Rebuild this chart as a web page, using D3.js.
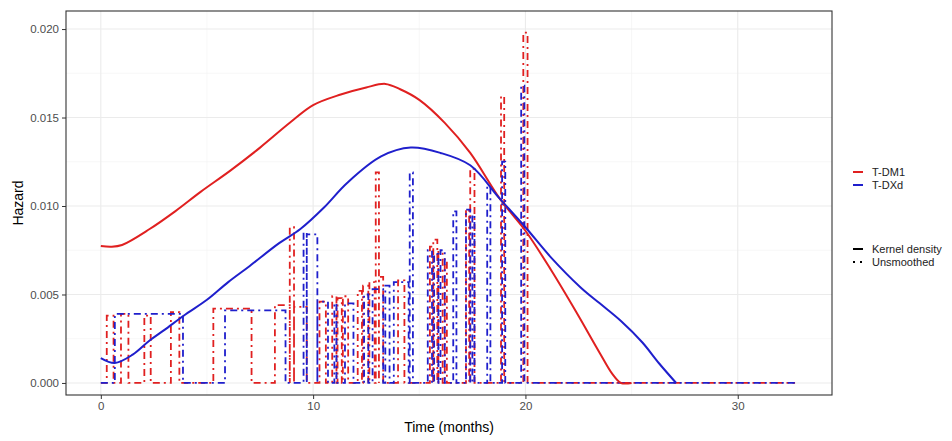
<!DOCTYPE html>
<html>
<head>
<meta charset="utf-8">
<script src="https://cdn.jsdelivr.net/npm/d3@7"></script>
<style>
  body { margin: 0; background: #fff; }
  svg text { font-family: "Liberation Sans", Arial, sans-serif; }
</style>
</head>
<body>
<div id="chart"></div>
<script>
// groups
const groups = ["T-DM1", "T-DXd"];
const groupColors = ["#E02020", "#1F1FCC"];

// kernel density hazard: [time, hazard]
const smoothTDM1 = [
  [0, 0.00774], [0.5, 0.00770], [1, 0.00780], [2.3, 0.0087], [3.5, 0.0097],
  [4.7, 0.0108], [6.1, 0.0120], [7.5, 0.0133], [8.9, 0.0147], [10, 0.0157],
  [11.3, 0.0163], [12.5, 0.0167], [13.4, 0.0169], [14.1, 0.0166], [15, 0.0160],
  [16.2, 0.0147], [17.4, 0.0130], [18.8, 0.0104], [20, 0.0086], [21.2, 0.0064],
  [22.4, 0.0040], [23.5, 0.0017], [24.1, 0.0005], [24.5, 0.0], [25.0, 0.0]
];
const smoothTDXd = [
  [0, 0.00141], [0.66, 0.00113], [1.5, 0.0016], [2.3, 0.0024], [3.0, 0.0030],
  [3.9, 0.0038], [5, 0.0047], [6, 0.0057], [7, 0.0066], [8.4, 0.0079],
  [9.4, 0.0087], [10.5, 0.0099], [11.6, 0.0113], [13.2, 0.0128], [14.6, 0.0133],
  [16, 0.0130], [17.4, 0.0123], [18.8, 0.0104], [20, 0.0088], [21.2, 0.0071],
  [22.6, 0.0054], [23.5, 0.0045], [24.5, 0.0035], [25.5, 0.0023], [26.3, 0.0011],
  [27.1, 0.0]
];

// unsmoothed hazard, blocks of [start, end, hazard]; zero elsewhere
const rawTDM1 = [
  [0.28, 0.6, 0.0038], [0.95, 1.3, 0.0039], [2.05, 2.35, 0.0038], [3.3, 3.7, 0.0040],
  [5.3, 7.1, 0.0042], [8.2, 8.9, 0.0044], [8.9, 9.1, 0.0088], [9.1, 9.7, 0.0043],
  [10.3, 10.6, 0.0046], [10.9, 11.1, 0.0049], [11.15, 11.35, 0.0048], [11.4, 11.65, 0.0049],
  [12.1, 12.3, 0.0052], [12.35, 12.6, 0.0055], [12.65, 12.9, 0.0057], [12.95, 13.1, 0.0119],
  [13.1, 13.3, 0.0060], [14.0, 14.3, 0.0058], [15.5, 15.65, 0.0077], [15.66, 15.85, 0.0081],
  [15.9, 16.1, 0.0074], [16.2, 16.3, 0.0070], [17.2, 17.35, 0.0098], [17.4, 17.6, 0.0121],
  [18.85, 19.0, 0.0162], [19.9, 20.1, 0.0198]
];
const rawTDXd = [
  [0.66, 3.87, 0.0039], [5.85, 8.7, 0.0041], [9.55, 9.7, 0.0085], [9.7, 10.2, 0.0084],
  [10.2, 10.7, 0.0046], [11.0, 11.1, 0.0045], [11.5, 11.9, 0.0045], [12.4, 12.6, 0.0050],
  [12.8, 13.3, 0.0053], [13.4, 13.6, 0.0055], [13.8, 14.5, 0.0057], [14.55, 14.7, 0.0119],
  [15.4, 15.6, 0.0075], [15.7, 15.9, 0.0073], [16.0, 16.2, 0.0075], [16.6, 16.75, 0.0097],
  [17.2, 17.4, 0.0098], [17.5, 17.6, 0.0095], [18.2, 18.35, 0.0111], [18.9, 19.05, 0.0125],
  [19.8, 19.95, 0.0168]
];
const rawEnd = 32.7;

// axis ticks
const xTicks = [0, 10, 20, 30];
const xMinor = [5, 15, 25];
const yTicks = [0, 0.005, 0.010, 0.015, 0.020];
const yMinor = [0.0025, 0.0075, 0.0125, 0.0175];

const legendTypes = ["Kernel density", "Unsmoothed"];

// canvas
const W = 952, H = 441;
const panel = { left: 66, right: 832, top: 11, bottom: 395 };

const svg = d3.select("#chart").append("svg")
  .attr("width", W).attr("height", H);

const x = d3.scaleLinear().domain([-1.64, 34.44]).range([panel.left, panel.right]);
const y = d3.scaleLinear().domain([-0.00068, 0.02102]).range([panel.bottom, panel.top]);

// panel background + grid
svg.append("rect")
  .attr("x", panel.left).attr("y", panel.top)
  .attr("width", panel.right - panel.left).attr("height", panel.bottom - panel.top)
  .attr("fill", "#fff");

const grid = svg.append("g");
grid.selectAll("line.xminor").data(xMinor).enter().append("line")
  .attr("x1", d => x(d)).attr("x2", d => x(d))
  .attr("y1", panel.top).attr("y2", panel.bottom)
  .attr("stroke", "#F2F2F2").attr("stroke-width", 0.6);
grid.selectAll("line.yminor").data(yMinor).enter().append("line")
  .attr("y1", d => y(d)).attr("y2", d => y(d))
  .attr("x1", panel.left).attr("x2", panel.right)
  .attr("stroke", "#F2F2F2").attr("stroke-width", 0.6);
grid.selectAll("line.xmajor").data(xTicks).enter().append("line")
  .attr("x1", d => x(d)).attr("x2", d => x(d))
  .attr("y1", panel.top).attr("y2", panel.bottom)
  .attr("stroke", "#EBEBEB").attr("stroke-width", 1.1);
grid.selectAll("line.ymajor").data(yTicks).enter().append("line")
  .attr("y1", d => y(d)).attr("y2", d => y(d))
  .attr("x1", panel.left).attr("x2", panel.right)
  .attr("stroke", "#EBEBEB").attr("stroke-width", 1.1);

// unsmoothed path from blocks
function blocksToPoints(blocks) {
  const pts = [[0, 0]];
  blocks.forEach(([a, b, h]) => {
    pts.push([a, 0], [a, h], [b, h], [b, 0]);
  });
  pts.push([rawEnd, 0]);
  return pts;
}

const lineRaw = d3.line().x(d => x(d[0])).y(d => y(d[1]));
const lineSmooth = d3.line().x(d => x(d[0])).y(d => y(d[1]))
  .curve(d3.curveCatmullRom.alpha(0.5));

const plot = svg.append("g");
[rawTDM1, rawTDXd].forEach((blocks, i) => {
  plot.append("path")
    .attr("d", lineRaw(blocksToPoints(blocks)))
    .attr("fill", "none")
    .attr("stroke", groupColors[i])
    .attr("stroke-width", 1.8)
    .attr("stroke-dasharray", "7,4,2,4");
});
[smoothTDM1, smoothTDXd].forEach((pts, i) => {
  plot.append("path")
    .attr("d", lineSmooth(pts))
    .attr("fill", "none")
    .attr("stroke", groupColors[i])
    .attr("stroke-width", 2);
});

// panel border
svg.append("rect")
  .attr("x", panel.left).attr("y", panel.top)
  .attr("width", panel.right - panel.left).attr("height", panel.bottom - panel.top)
  .attr("fill", "none").attr("stroke", "#333").attr("stroke-width", 1.1);

// axes
const xAxis = svg.append("g")
  .attr("transform", `translate(0,${panel.bottom})`)
  .call(d3.axisBottom(x).tickValues(xTicks).tickSize(4).tickPadding(3).tickFormat(d3.format("d")));
const yAxis = svg.append("g")
  .attr("transform", `translate(${panel.left},0)`)
  .call(d3.axisLeft(y).tickValues(yTicks).tickSize(4).tickPadding(3).tickFormat(d3.format(".3f")));
[xAxis, yAxis].forEach(a => {
  a.select(".domain").remove();
  a.selectAll(".tick line").attr("stroke", "#333");
  a.selectAll(".tick text").attr("fill", "#4D4D4D").style("font-size", "11.5px");
});

// axis titles
svg.append("text")
  .attr("x", (panel.left + panel.right) / 2).attr("y", 432)
  .attr("text-anchor", "middle")
  .style("font-size", "14px")
  .text("Time (months)");
svg.append("text")
  .attr("transform", `translate(23,${(panel.top + panel.bottom) / 2}) rotate(-90)`)
  .attr("text-anchor", "middle")
  .style("font-size", "14px")
  .text("Hazard");

// legends
const leg = svg.append("g").attr("transform", "translate(853,0)");
groups.forEach((g, i) => {
  const yy = 172 + i * 13;
  leg.append("line")
    .attr("x1", 0).attr("x2", 10).attr("y1", yy).attr("y2", yy)
    .attr("stroke", groupColors[i]).attr("stroke-width", 2);
  leg.append("text")
    .attr("x", 19).attr("y", yy).attr("dy", "0.35em")
    .style("font-size", "11px").attr("fill", "#222")
    .text(g);
});
legendTypes.forEach((t, i) => {
  const yy = 249 + i * 13;
  leg.append("line")
    .attr("x1", 0).attr("x2", 10).attr("y1", yy).attr("y2", yy)
    .attr("stroke", "#000").attr("stroke-width", 2)
    .attr("stroke-dasharray", i === 0 ? null : "2,5");
  leg.append("text")
    .attr("x", 19).attr("y", yy).attr("dy", "0.35em")
    .style("font-size", "11px").attr("fill", "#222")
    .text(t);
});
</script>
</body>
</html>
